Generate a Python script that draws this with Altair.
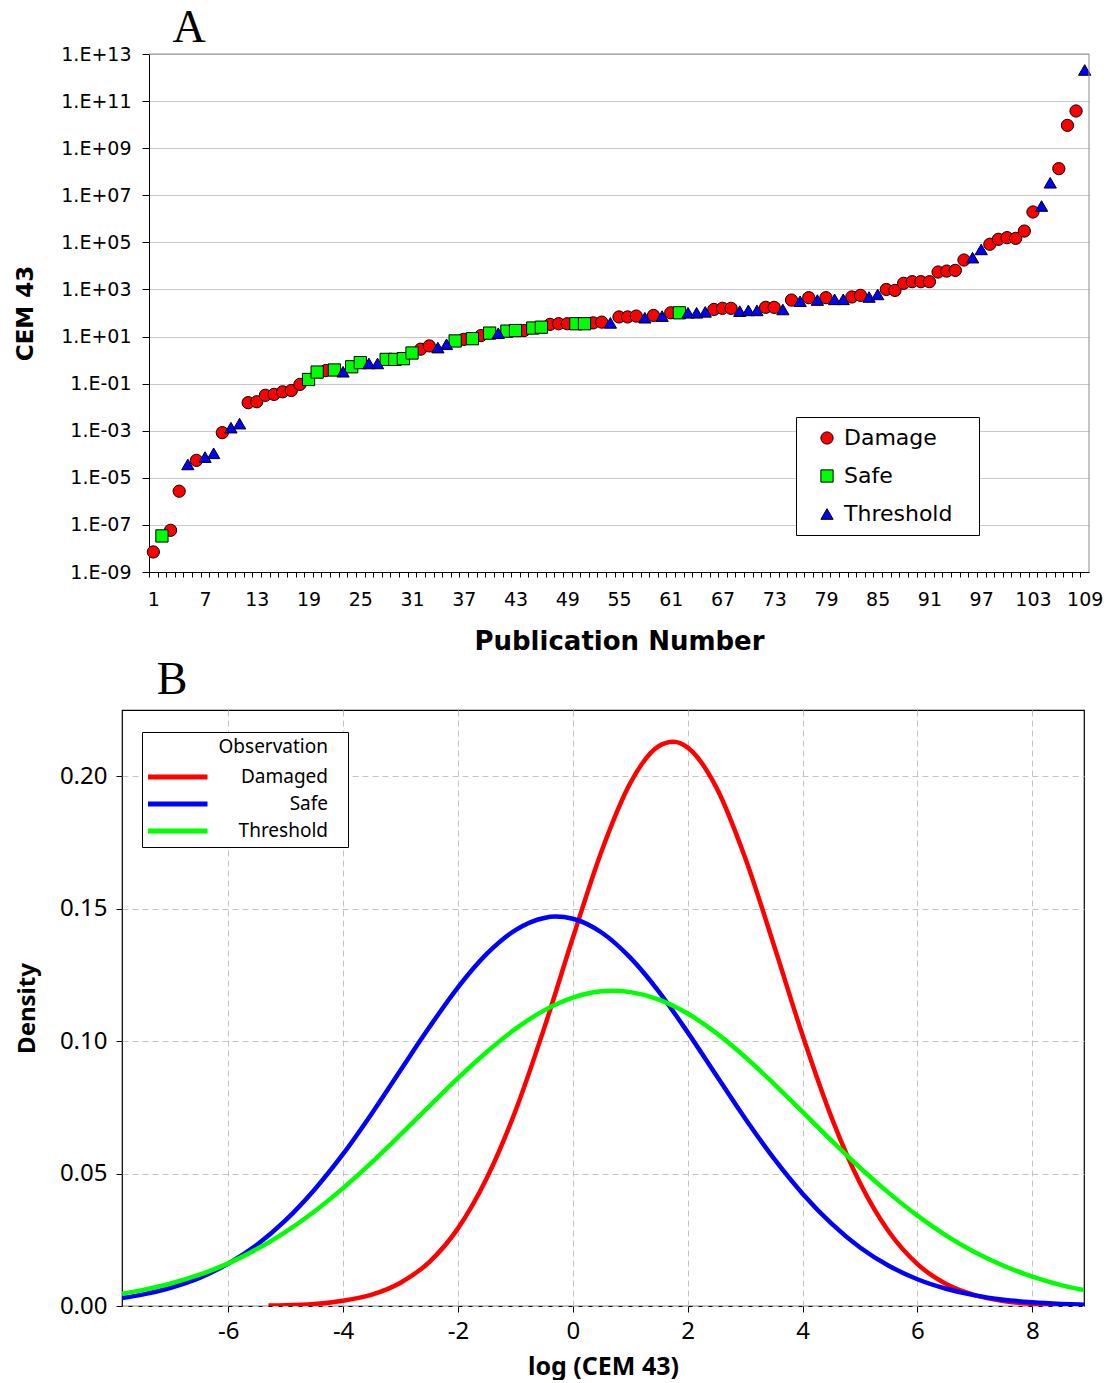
import altair as alt
import pandas as pd

# ---------------- Panel A data ----------------
categories = ["Damage", "Safe", "Threshold"]
cat_colors = ["#ff0000", "#00ff00", "#0000ff"]
cat_shapes = ["circle", "square", "triangle-up"]

pub_number = list(range(1, 110))
observation = [
    "Damage", "Safe", "Damage", "Damage", "Threshold", "Damage", "Threshold", "Threshold", "Damage", "Threshold",
    "Threshold", "Damage", "Damage", "Damage", "Damage", "Damage", "Damage", "Damage", "Safe", "Safe",
    "Damage", "Safe", "Threshold", "Safe", "Safe", "Threshold", "Threshold", "Safe", "Safe", "Safe",
    "Safe", "Damage", "Damage", "Threshold", "Threshold", "Safe", "Damage", "Safe", "Damage", "Safe",
    "Threshold", "Safe", "Safe", "Damage", "Safe", "Safe", "Damage", "Damage", "Damage", "Safe",
    "Safe", "Damage", "Damage", "Threshold", "Damage", "Damage", "Damage", "Threshold", "Damage", "Threshold",
    "Damage", "Safe", "Threshold", "Threshold", "Threshold", "Damage", "Damage", "Damage", "Threshold", "Threshold",
    "Threshold", "Damage", "Damage", "Threshold", "Damage", "Threshold", "Damage", "Threshold", "Damage", "Threshold",
    "Threshold", "Damage", "Damage", "Threshold", "Threshold", "Damage", "Damage", "Damage", "Damage", "Damage",
    "Damage", "Damage", "Damage", "Damage", "Damage", "Threshold", "Threshold", "Damage", "Damage", "Damage",
    "Damage", "Damage", "Damage", "Threshold", "Threshold", "Damage", "Damage", "Damage", "Threshold",
]
cem43 = [
    7.1e-9, 3.4e-8, 5.9e-8, 2.7e-6, 3.7e-5, 5.5e-5, 7.6e-5, 1.1e-4, 8.3e-4, 1.35e-3,
    2.0e-3, 0.0155, 0.017, 0.032, 0.035, 0.045, 0.051, 0.093, 0.15, 0.31,
    0.36, 0.38, 0.32, 0.52, 0.78, 0.72, 0.72, 1.07, 1.07, 1.15,
    2.0, 2.9, 4.0, 3.4, 4.7, 6.5, 7.6, 8.1, 11, 14,
    13.8, 17, 18, 18, 23, 25, 33, 35, 35, 35,
    35, 38, 41, 38, 68, 68, 74, 63, 79, 74,
    102, 102, 102, 102, 112, 141, 158, 158, 120, 129,
    129, 174, 174, 141, 355, 316, 447, 355, 447, 380,
    380, 479, 562, 479, 617, 1000, 912, 1820, 2140, 2140,
    2140, 5500, 6030, 6460, 17800, 22400, 50100, 83200, 135000, 158000,
    148000, 302000, 1.95e6, 3.5e6, 3.4e7, 1.35e8, 9.3e9, 3.8e10, 2.1e12,
]
y_exponents = [-9, -7, -5, -3, -1, 1, 3, 5, 7, 9, 11, 13]
y_tick_labels = ["1.E-09", "1.E-07", "1.E-05", "1.E-03", "1.E-01", "1.E+01",
                 "1.E+03", "1.E+05", "1.E+07", "1.E+09", "1.E+11", "1.E+13"]

# ---------------- Panel B data ----------------
obs_b = ["Damaged", "Safe", "Threshold"]
obs_b_colors = ["#ff0000", "#0000ff", "#00ff00"]

damaged_x = [-5.3, -5.0, -4.5, -4.0, -3.5, -3.0, -2.5, -2.0, -1.5, -1.0, -0.5, 0.0, 0.5, 1.0, 1.5, 1.75,
             2.0, 2.5, 3.0, 3.5, 4.0, 4.5, 5.0, 5.5, 6.0, 6.5, 7.0, 7.5, 8.0, 8.5, 8.9]
damaged_y = [0.0002, 0.0003, 0.0008, 0.0020, 0.0043, 0.0088, 0.0166, 0.0293, 0.0482, 0.0736, 0.1048,
             0.1390, 0.1717, 0.1974, 0.2114, 0.2130, 0.2108, 0.1957, 0.1692, 0.1363, 0.1022, 0.0714,
             0.0464, 0.0281, 0.0158, 0.0083, 0.0041, 0.0019, 0.0008, 0.0003, 0.0001]
safe_x = [-7.85, -7.5, -7.0, -6.5, -6.0, -5.5, -5.0, -4.5, -4.0, -3.5, -3.0, -2.5, -2.0, -1.5, -1.0, -0.5,
          -0.3, 0.0, 0.5, 1.0, 1.5, 2.0, 2.5, 3.0, 3.5, 4.0, 4.5, 5.0, 5.5, 6.0, 6.5, 7.0, 7.5, 8.0, 8.5, 8.9]
safe_y = [0.0030, 0.0043, 0.0069, 0.0106, 0.0160, 0.0231, 0.0324, 0.0439, 0.0574, 0.0727, 0.0890, 0.1052,
          0.1203, 0.1329, 0.1419, 0.1465, 0.1470, 0.1462, 0.1410, 0.1315, 0.1186, 0.1033, 0.0870, 0.0708,
          0.0557, 0.0424, 0.0312, 0.0221, 0.0152, 0.0101, 0.0065, 0.0040, 0.0024, 0.0014, 0.0008, 0.0005]
threshold_x = [-7.85, -7.5, -7.0, -6.5, -6.0, -5.5, -5.0, -4.5, -4.0, -3.5, -3.0, -2.5, -2.0, -1.5, -1.0,
               -0.5, 0.0, 0.5, 0.7, 1.0, 1.5, 2.0, 2.5, 3.0, 3.5, 4.0, 4.5, 5.0, 5.5, 6.0, 6.5, 7.0, 7.5,
               8.0, 8.5, 8.9]
threshold_y = [0.0046, 0.0060, 0.0085, 0.0118, 0.0161, 0.0215, 0.0280, 0.0357, 0.0445, 0.0542, 0.0647,
               0.0754, 0.0860, 0.0959, 0.1046, 0.1116, 0.1164, 0.1188, 0.1190, 0.1185, 0.1157, 0.1104,
               0.1030, 0.0940, 0.0839, 0.0733, 0.0625, 0.0522, 0.0427, 0.0341, 0.0266, 0.0203, 0.0152,
               0.0111, 0.0079, 0.0060]
b_x_ticks = [-6, -4, -2, 0, 2, 4, 6, 8]
b_y_ticks = [0.0, 0.05, 0.10, 0.15, 0.20]

# blank, non-trimmed padding characters used to widen the legend boxes
PAD_A = "\u2800"
PAD_B = "\u2800"

# ---------------- Panel A chart ----------------
SHIFT = 27                 # panel A's plot starts 27px to the right of panel B's
PLOT_WA, HA = 940, 518
WA = PLOT_WA + SHIFT
cat_w = PLOT_WA / len(pub_number)
x_lo, x_hi = 0.5, len(pub_number) + 0.5

dfA = pd.DataFrame({"pub": pub_number, "cem": cem43, "obs": observation})
dfA["order"] = dfA["obs"].map({c: i for i, c in enumerate(categories)})
dfA = dfA.sort_values(["order", "pub"]).drop(columns="order")

exp_list = ",".join(str(e) for e in y_exponents)
lab_list = ",".join("'" + s + "'" for s in y_tick_labels)
y_label_expr = f"[{lab_list}][indexof([{exp_list}], round(log(datum.value)/LN10))]"

legendA = alt.Legend(
    title=None, orient="none", legendX=674, legendY=363,
    strokeColor="black", fillColor="white", padding=10,
    labelFont="DejaVu Sans", labelFontSize=22, labelColor="black",
    labelExpr=f"datum.label + '{PAD_A}'",
    symbolSize=150, symbolStrokeColor="black", symbolStrokeWidth=1,
    symbolOffset=10, labelOffset=6, rowPadding=16,
)

xA = alt.X("pub:Q",
           scale=alt.Scale(domain=[x_lo, x_hi], range=[SHIFT, WA], nice=False, zero=False),
           axis=alt.Axis(values=pub_number, tickCount=500,
                         tickOffset=-cat_w / 2, labelOffset=cat_w / 2,
                         labelExpr="(datum.value - 1) % 6 == 0 ? datum.label : ''",
                         format="d", labelOverlap=False, labelFlush=False, labelBound=False,
                         grid=False, domainColor="black", tickColor="black", tickSize=5,
                         labelFont="DejaVu Sans", labelFontSize=19, labelColor="black",
                         labelPadding=13,
                         title="Publication Number", titleFont="DejaVu Sans",
                         titleFontSize=26, titleFontWeight="bold", titleColor="black",
                         titleX=SHIFT + PLOT_WA / 2, titleY=69.5, titleBaseline="middle",
                         titleAlign="center"))
yA = alt.Y("cem:Q",
           scale=alt.Scale(type="log", domain=[1e-9, 1e13], nice=False),
           axis=alt.Axis(values=[10.0 ** e for e in y_exponents], tickCount=100,
                         labelExpr=y_label_expr, offset=-SHIFT,
                         grid=True, gridColor="#c8c8c8", gridWidth=1,
                         domainColor="black", tickColor="black", tickSize=7,
                         labelFont="DejaVu Sans", labelFontSize=19, labelColor="black",
                         labelPadding=11, labelOverlap=False, labelFlush=False,
                         title="CEM 43", titleFont="DejaVu Sans", titleFontSize=23,
                         titleFontWeight="bold", titleColor="black",
                         titleX=-124, titleY=HA / 2, titleAngle=270,
                         titleBaseline="middle", titleAlign="center"))

pointsA = alt.Chart(dfA).mark_point(
    filled=True, size=150, stroke="black", strokeWidth=1, opacity=1
).encode(
    x=xA, y=yA,
    color=alt.Color("obs:N", scale=alt.Scale(domain=categories, range=cat_colors), legend=legendA),
    shape=alt.Shape("obs:N", scale=alt.Scale(domain=categories, range=cat_shapes), legend=legendA),
)

one = pd.DataFrame({"k": [0]})
border_right = alt.Chart(one).mark_rule(color="#8c8c8c", strokeWidth=1).encode(
    x=alt.datum(x_hi), y=alt.value(0), y2=alt.value(HA))
border_top = alt.Chart(one).mark_rule(color="#8c8c8c", strokeWidth=1).encode(
    x=alt.datum(x_lo), x2=alt.datum(x_hi), y=alt.datum(1e13))

labelA = alt.Chart(pd.DataFrame({"panel": ["A"]})).mark_text(
    font="Liberation Serif", fontSize=46, color="black", align="center", baseline="alphabetic"
).encode(text="panel:N", x=alt.value(67), y=alt.value(-12))

chartA = alt.layer(pointsA, border_top, border_right, labelA).properties(
    width=WA, height=HA,
    view=alt.ViewBackground(strokeWidth=0),
)

# ---------------- Panel B chart ----------------
WB, HB = 962, 596
rows = []
for name, xs, ys in [("Damaged", damaged_x, damaged_y),
                     ("Safe", safe_x, safe_y),
                     ("Threshold", threshold_x, threshold_y)]:
    for xv, yv in zip(xs, ys):
        rows.append({"x": xv, "density": yv, "obs": name})
dfB = pd.DataFrame(rows)

legendB = alt.Legend(
    title="Observation" + PAD_B, orient="none", legendX=20, legendY=22,
    strokeColor="black", fillColor="white", padding=6,
    titleFont="Noto Sans", titleFontSize=19, titleFontWeight="normal", titleColor="black",
    titleAnchor="end", titlePadding=10,
    labelFont="Noto Sans", labelFontSize=19, labelColor="black",
    labelExpr=f"datum.label + '{PAD_B}'",
    labelAlign="right", labelOffset=132,
    symbolType="stroke", symbolSize=3600, symbolStrokeWidth=5, symbolOffset=-3,
    clipHeight=20, rowPadding=7,
)

linesB = alt.Chart(dfB).mark_line(strokeWidth=4.5, interpolate="monotone", clip=True).encode(
    x=alt.X("x:Q",
            scale=alt.Scale(domain=[-7.85, 8.9], nice=False, zero=False),
            axis=alt.Axis(values=b_x_ticks, labelExpr="'' + datum.value", grid=True,
                          gridColor="#c4c4c4", gridDash=[6, 4], gridWidth=1, domain=False,
                          tickColor="black", tickSize=6,
                          labelFont="Noto Sans", labelFontSize=24, labelColor="black",
                          labelPadding=7, labelFlush=False,
                          title="log (CEM 43)", titleFont="Noto Sans", titleFontSize=25,
                          titleFontWeight="bold", titleColor="black",
                          titleY=60, titleBaseline="middle")),
    y=alt.Y("density:Q",
            scale=alt.Scale(domain=[0, 0.225], nice=False),
            axis=alt.Axis(values=b_y_ticks, format=".2f", grid=True, gridColor="#c4c4c4",
                          gridDash=[6, 4], gridWidth=1, domain=False,
                          tickColor="black", tickSize=6,
                          labelFont="Noto Sans", labelFontSize=24, labelColor="black",
                          labelPadding=9, labelFlush=False,
                          title="Density", titleFont="Noto Sans", titleFontSize=24,
                          titleFontWeight="bold", titleColor="black",
                          titleX=-95, titleY=(1008 - 710), titleAngle=270,
                          titleBaseline="middle", titleAlign="center")),
    color=alt.Color("obs:N", scale=alt.Scale(domain=obs_b, range=obs_b_colors), legend=legendB),
)

labelB = alt.Chart(pd.DataFrame({"panel": ["B"]})).mark_text(
    font="Liberation Serif", fontSize=46, color="black", align="center", baseline="alphabetic"
).encode(text="panel:N", x=alt.value(50), y=alt.value(-16.5))

chartB = alt.layer(linesB, labelB).properties(
    width=WB, height=HB,
    view=alt.ViewBackground(stroke="black", strokeWidth=1.2),
)

chart = alt.concat(chartA, chartB, columns=1, spacing=0, align="none").resolve_scale(
    color="independent", shape="independent"
).resolve_legend(color="independent", shape="independent").properties(
    padding={"left": 14, "top": 5, "right": 0, "bottom": 0},
    background="white",
)

chart.save("out.html", embed_options={"renderer": "svg", "actions": False})
